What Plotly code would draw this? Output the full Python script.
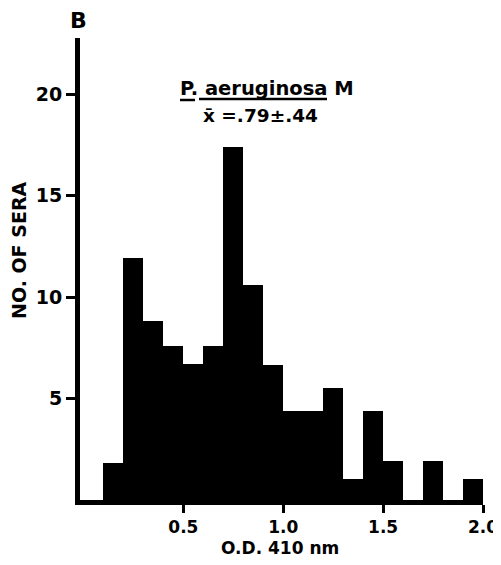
import plotly.graph_objects as go

# Histogram bins (lower edge of each 0.1-wide O.D. bin) and number of sera
bin_starts = [0.0, 0.1, 0.2, 0.3, 0.4, 0.5, 0.6, 0.7, 0.8, 0.9,
              1.0, 1.1, 1.2, 1.3, 1.4, 1.5, 1.6, 1.7, 1.8, 1.9]
counts = [0, 1.8, 11.9, 8.8, 7.6, 6.7, 7.6, 17.4, 10.6, 6.65,
          4.4, 4.4, 5.5, 1.05, 4.4, 1.9, 0, 1.9, 0, 1.05]
bin_width = 0.1

x_tickvals = [0.5, 1.0, 1.5, 2.0]
x_ticktext = ["0.5", "1.0", "1.5", "2.0"]
y_tickvals = [5, 10, 15, 20]
y_ticktext = ["5", "10", "15", "20"]

FONT = "DejaVu Sans"
OFF = 8  # default page body margin
W, H = 501 - OFF, 565 - OFF
L, R, T, B = 80 - OFF, 18, 38 - OFF, 65
PW, PH = W - L - R, H - T - B


def px(xp):
    return (xp - OFF - L) / PW


def py(yp):
    return (H - B - (yp - OFF)) / PH


fig = go.Figure()
fig.add_trace(go.Bar(
    x=bin_starts, y=counts, width=bin_width, offset=0,
    marker=dict(color="black", line=dict(width=0)),
    hoverinfo="x+y",
))

fig.update_layout(
    width=W, height=H,
    margin=dict(l=L, r=R, t=T, b=B, pad=0, autoexpand=False),
    paper_bgcolor="white", plot_bgcolor="white",
    showlegend=False, bargap=0,
    font=dict(family=FONT, color="black"),
    xaxis=dict(
        range=[-0.0175, 2.0],
        tickvals=x_tickvals, ticktext=x_ticktext,
        tickfont=dict(family=FONT, size=17, weight="bold"),
        showgrid=False, zeroline=False, automargin=False,
        showline=True, linewidth=5, linecolor="black",
        ticks="outside", ticklen=8, tickwidth=3, tickcolor="black",
    ),
    yaxis=dict(
        range=[0, 22.76],
        tickvals=y_tickvals, ticktext=y_ticktext,
        tickfont=dict(family=FONT, size=19, weight="bold"),
        showgrid=False, zeroline=False, automargin=False,
        showline=True, linewidth=5, linecolor="black",
        ticks="outside", ticklen=9, tickwidth=3, tickcolor="black",
    ),
)

annotations = [
    dict(text="<b>B</b>", x=px(78), y=py(21), font=dict(size=22)),
    dict(text="<b>NO. OF SERA</b>", x=px(19), y=py(250), textangle=-90,
         font=dict(size=19)),
    dict(text="<b>O.D. 410 nm</b>", x=px(280), y=py(548), font=dict(size=17)),
    dict(text="<b>P. aeruginosa M</b>", x=px(178), y=py(88), xanchor="left",
         font=dict(size=19.5)),
    dict(text="<b>x\u0304 =.79\u00b1.44</b>", x=px(260), y=py(116),
         font=dict(size=18.5)),
]
for a in annotations:
    a.setdefault("xanchor", "center")
    a.update(xref="paper", yref="paper", showarrow=False, yanchor="middle")
    fig.add_annotation(**a)

# underline of "P." and fraction bar under "aeruginosa"
for x0, x1, yy in [(180, 195, 100), (199, 327, 99)]:
    fig.add_shape(type="line", xref="paper", yref="paper",
                  x0=px(x0), x1=px(x1), y0=py(yy), y1=py(yy),
                  line=dict(color="black", width=2.5))

fig.write_html("out.html")
